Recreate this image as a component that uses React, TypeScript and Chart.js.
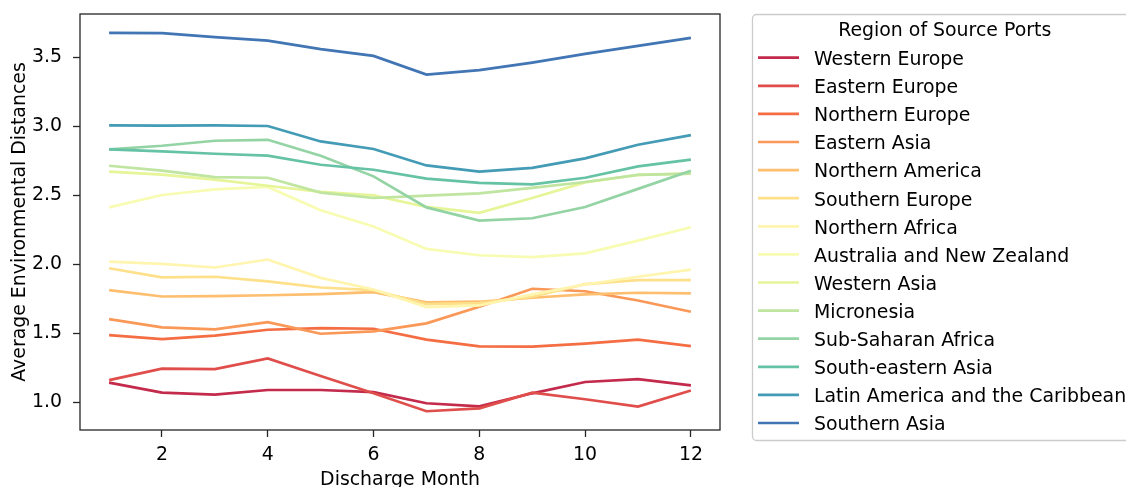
import React, { useEffect, useRef } from 'react';
import { Chart, registerables } from 'chart.js';

Chart.register(...registerables);

const months = [1, 2, 3, 4, 5, 6, 7, 8, 9, 10, 11, 12];

const regions = [
  'Western Europe',
  'Eastern Europe',
  'Northern Europe',
  'Eastern Asia',
  'Northern America',
  'Southern Europe',
  'Northern Africa',
  'Australia and New Zealand',
  'Western Asia',
  'Micronesia',
  'Sub-Saharan Africa',
  'South-eastern Asia',
  'Latin America and the Caribbean',
  'Southern Asia',
];

const colors = [
  'rgb(195,42,75)',
  'rgb(223,78,75)',
  'rgb(244,109,67)',
  'rgb(250,152,87)',
  'rgb(253,191,111)',
  'rgb(254,224,139)',
  'rgb(255,245,174)',
  'rgb(247,252,178)',
  'rgb(230,245,152)',
  'rgb(191,229,160)',
  'rgb(148,212,164)',
  'rgb(102,194,165)',
  'rgb(67,155,181)',
  'rgb(65,117,180)',
];

const westernEurope = [1.140, 1.068, 1.054, 1.087, 1.087, 1.072, 0.991, 0.969, 1.063, 1.145, 1.166, 1.121];
const easternEurope = [1.159, 1.242, 1.239, 1.316, 1.188, 1.063, 0.933, 0.954, 1.068, 1.020, 0.967, 1.083];
const northernEurope = [1.485, 1.456, 1.481, 1.524, 1.536, 1.531, 1.452, 1.403, 1.401, 1.423, 1.452, 1.405];
const easternAsia = [1.601, 1.541, 1.526, 1.579, 1.495, 1.512, 1.570, 1.690, 1.821, 1.803, 1.736, 1.654];
const northernAmerica = [1.811, 1.765, 1.767, 1.774, 1.782, 1.796, 1.722, 1.727, 1.756, 1.780, 1.792, 1.787];
const southernEurope = [1.970, 1.903, 1.908, 1.874, 1.830, 1.811, 1.709, 1.717, 1.763, 1.854, 1.883, 1.883];
const northernAfrica = [2.018, 2.002, 1.975, 2.033, 1.900, 1.816, 1.688, 1.700, 1.780, 1.852, 1.908, 1.960];
const australiaNZ = [2.411, 2.501, 2.542, 2.559, 2.390, 2.272, 2.110, 2.064, 2.050, 2.078, 2.170, 2.267];
const westernAsia = [2.670, 2.648, 2.612, 2.568, 2.523, 2.498, 2.414, 2.371, 2.479, 2.592, 2.646, 2.655];
const micronesia = [2.713, 2.677, 2.631, 2.626, 2.518, 2.479, 2.496, 2.513, 2.552, 2.595, 2.646, 2.655];
const subSaharanAfrica = [2.831, 2.858, 2.894, 2.901, 2.786, 2.636, 2.411, 2.315, 2.332, 2.414, 2.545, 2.677];
const southEasternAsia = [2.831, 2.817, 2.800, 2.786, 2.720, 2.684, 2.619, 2.588, 2.578, 2.626, 2.708, 2.757];
const latinAmerica = [3.005, 3.003, 3.005, 3.001, 2.889, 2.834, 2.715, 2.670, 2.697, 2.766, 2.865, 2.935];
const southernAsia = [3.676, 3.674, 3.645, 3.620, 3.558, 3.509, 3.374, 3.406, 3.461, 3.524, 3.582, 3.640];

const seriesValues = [
  westernEurope,
  easternEurope,
  northernEurope,
  easternAsia,
  northernAmerica,
  southernEurope,
  northernAfrica,
  australiaNZ,
  westernAsia,
  micronesia,
  subSaharanAfrica,
  southEasternAsia,
  latinAmerica,
  southernAsia,
];

const xTicks = [2, 4, 6, 8, 10, 12];
const yTicks = [1.0, 1.5, 2.0, 2.5, 3.0, 3.5];
const xTitle = 'Discharge Month';
const yTitle = 'Average Environmental Distances';
const legendTitle = 'Region of Source Ports';

const FAMILY = '"DejaVu Sans", sans-serif';
const FSIZE = 18.9;
const FONT = `${FSIZE}px ${FAMILY}`;
const SPINE = '#262626';

const overlayPlugin = {
  id: 'overlay',
  afterDraw(chart: any) {
    const ctx = chart.ctx as CanvasRenderingContext2D;
    const a = chart.chartArea;
    ctx.save();
    // frame (spines)
    ctx.strokeStyle = SPINE;
    ctx.lineWidth = 1.3;
    ctx.strokeRect(a.left, a.top, a.right - a.left, a.bottom - a.top);

    // axis titles
    ctx.fillStyle = '#000';
    ctx.font = FONT;
    ctx.textAlign = 'center';
    ctx.textBaseline = 'alphabetic';
    ctx.fillText(xTitle, (a.left + a.right) / 2, 485);
    ctx.save();
    ctx.translate(25, (a.top + a.bottom) / 2);
    ctx.rotate(-Math.PI / 2);
    ctx.fillText(yTitle, 0, 0);
    ctx.restore();

    // legend box
    const bx = 752.5;
    const by = 14.5;
    const bw = 420;
    const bh = 426;
    const r = 4;
    ctx.beginPath();
    ctx.moveTo(bx + r, by);
    ctx.lineTo(bx + bw - r, by);
    ctx.arcTo(bx + bw, by, bx + bw, by + r, r);
    ctx.lineTo(bx + bw, by + bh - r);
    ctx.arcTo(bx + bw, by + bh, bx + bw - r, by + bh, r);
    ctx.lineTo(bx + r, by + bh);
    ctx.arcTo(bx, by + bh, bx, by + bh - r, r);
    ctx.lineTo(bx, by + r);
    ctx.arcTo(bx, by, bx + r, by, r);
    ctx.closePath();
    ctx.fillStyle = 'rgba(255,255,255,0.85)';
    ctx.fill();
    ctx.strokeStyle = '#cccccc';
    ctx.lineWidth = 1.3;
    ctx.stroke();

    ctx.fillStyle = '#000';
    ctx.font = FONT;
    ctx.textAlign = 'center';
    ctx.fillText(legendTitle, 944.7, 36);

    ctx.textAlign = 'left';
    const rowH = 28.1;
    chart.data.datasets.forEach((ds: any, i: number) => {
      const yLine = 57.7 + i * rowH;
      ctx.strokeStyle = ds.borderColor;
      ctx.lineWidth = 2.7;
      ctx.beginPath();
      ctx.moveTo(758, yLine);
      ctx.lineTo(799, yLine);
      ctx.stroke();
      ctx.fillStyle = '#000';
      ctx.fillText(ds.label, 814, 65 + i * rowH);
    });
    ctx.restore();
  },
};

export default function App() {
  const canvasRef = useRef<HTMLCanvasElement | null>(null);

  useEffect(() => {
    if (!canvasRef.current) return;
    const n = regions.length;
    const datasets = regions.map((label, i) => ({
      label,
      data: months.map((m, j) => ({ x: m, y: seriesValues[i][j] })),
      borderColor: colors[i],
      backgroundColor: colors[i],
      borderWidth: 2.7,
      pointRadius: 0,
      fill: false,
      tension: 0,
      order: n - 1 - i,
    }));

    const chart = new Chart(canvasRef.current, {
      type: 'line',
      data: { datasets },
      options: {
        responsive: false,
        animation: false,
        devicePixelRatio: 1,
        layout: { padding: { left: 0, right: 406, top: 14, bottom: 0 } },
        plugins: {
          legend: { display: false },
          tooltip: { enabled: false },
        },
        scales: {
          x: {
            type: 'linear',
            min: 0.45,
            max: 12.55,
            afterBuildTicks: (s: any) => {
              s.ticks = xTicks.map((v) => ({ value: v }));
            },
            afterFit: (s: any) => {
              s.height = 57;
              s.paddingLeft = 0;
              s.paddingRight = 0;
            },
            grid: {
              display: true,
              drawOnChartArea: false,
              drawTicks: true,
              tickLength: 7,
              tickColor: SPINE,
              tickWidth: 1.3,
            },
            border: { display: false },
            ticks: {
              padding: 7,
              color: '#000',
              font: { family: FAMILY, size: FSIZE },
              maxRotation: 0,
              autoSkip: false,
              callback: (v: any) => String(v),
            },
          },
          y: {
            type: 'linear',
            min: 0.797,
            max: 3.813,
            afterBuildTicks: (s: any) => {
              s.ticks = yTicks.map((v) => ({ value: v }));
            },
            afterFit: (s: any) => {
              s.width = 80;
              s.paddingTop = 0;
              s.paddingBottom = 0;
            },
            grid: {
              display: true,
              drawOnChartArea: false,
              drawTicks: true,
              tickLength: 7,
              tickColor: SPINE,
              tickWidth: 1.3,
            },
            border: { display: false },
            ticks: {
              padding: 11,
              color: '#000',
              font: { family: FAMILY, size: FSIZE },
              autoSkip: false,
              callback: (v: any) => Number(v).toFixed(1),
            },
          },
        },
      } as any,
      plugins: [overlayPlugin],
    });

    return () => chart.destroy();
  }, []);

  return (
    <div style={{ position: 'fixed', left: 0, top: 0, width: 1126, height: 487, background: '#fff' }}>
      <canvas ref={canvasRef} width={1126} height={487} style={{ display: 'block' }} />
    </div>
  );
}
